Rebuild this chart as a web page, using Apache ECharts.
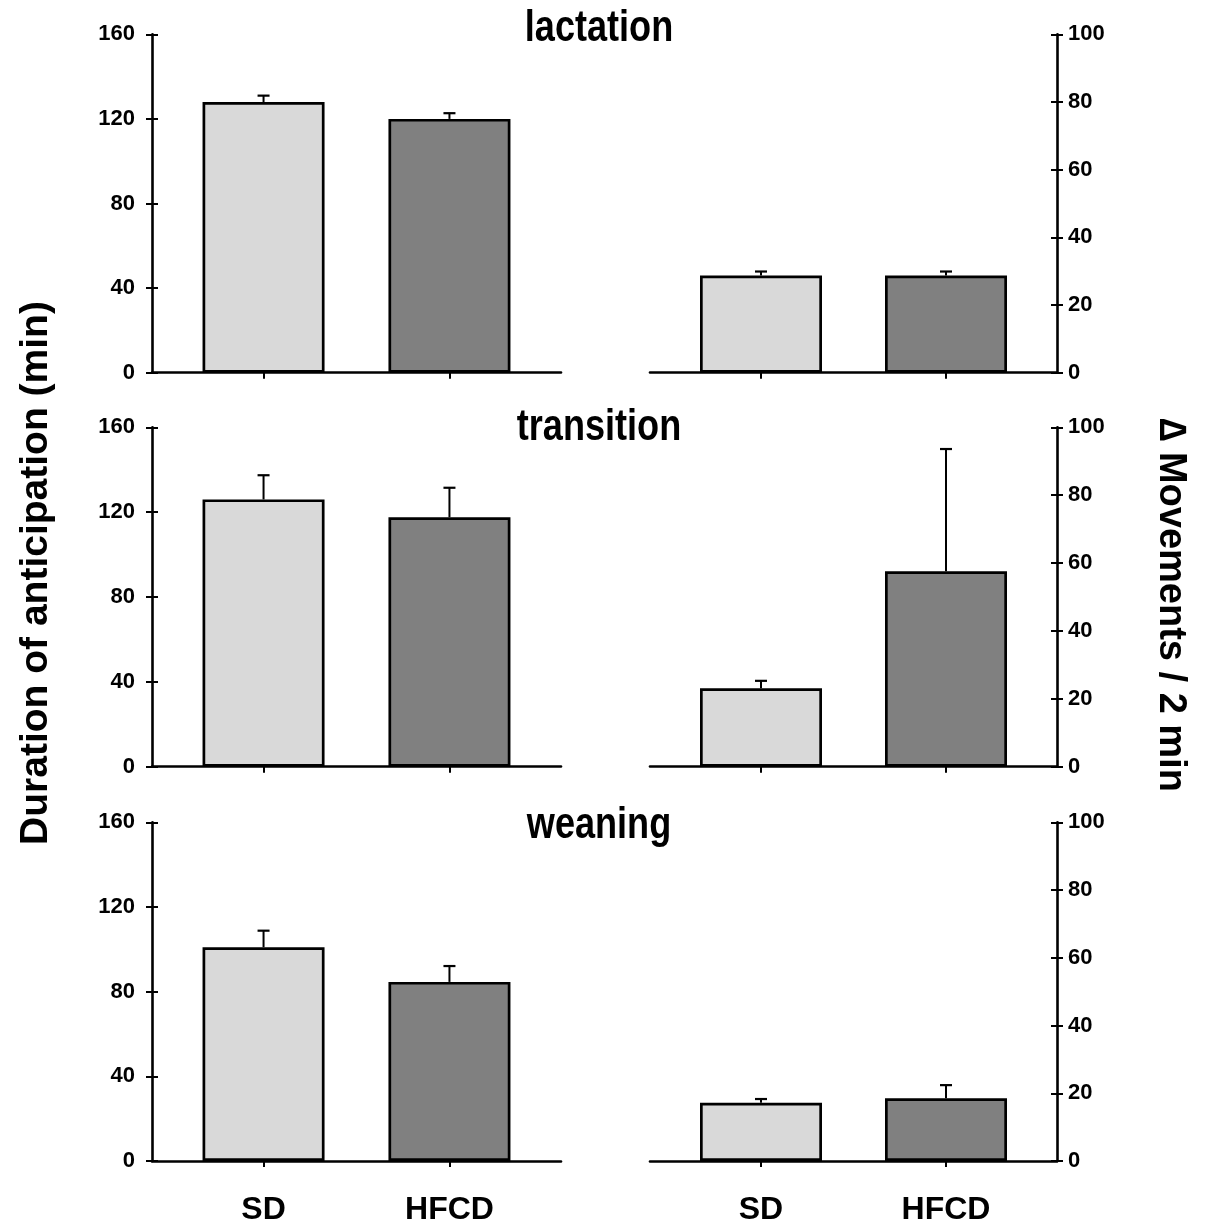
<!DOCTYPE html>
<html>
<head>
<meta charset="utf-8">
<script src="https://cdn.jsdelivr.net/npm/echarts@6/dist/echarts.min.js"></script>
<style>html,body{margin:0;padding:0;background:#fff;}#main{width:1206px;height:1226px;}</style>
</head>
<body>
<div id="main"></div>
<script>
// ---- data ----
const categories = ['SD', 'HFCD'];
const stages = ['lactation', 'transition', 'weaning'];
const durationSD = [128, 126, 101];
const durationHFCD = [120, 117.6, 84.6];
const durationErrSD = [3, 11.4, 7.8];
const durationErrHFCD = [2.7, 13.9, 7.5];
const movementsSD = [28.7, 23.1, 17.2];
const movementsHFCD = [28.7, 57.6, 18.5];
const movementsErrSD = [1.2, 2.2, 1.1];
const movementsErrHFCD = [1.2, 36, 3.9];
const durationTicks = [0, 40, 80, 120, 160];
const movementTicks = [0, 20, 40, 60, 80, 100];

const FONT = '"Liberation Sans","Arial",sans-serif';
const colors = ['#d9d9d9', '#808080'];

const rowTop = [34.3, 427.3, 822.3];
const rowBottom = [372.7, 766.7, 1161];
const titleY = [29, 428, 826];

const grids = [], xAxes = [], yAxes = [], series = [], graphics = [];

function errRender(params, api) {
  const x = api.value(0), m = api.value(1), e = api.value(2);
  const p0 = api.coord([x, m]);
  const p1 = api.coord([x, m + e]);
  return {
    type: 'group',
    children: [
      { type: 'line', shape: { x1: p0[0], y1: p0[1], x2: p1[0], y2: p1[1] }, style: { stroke: '#000', lineWidth: 2 } },
      { type: 'line', shape: { x1: p1[0] - 6, y1: p1[1], x2: p1[0] + 6, y2: p1[1] }, style: { stroke: '#000', lineWidth: 2.2 } }
    ]
  };
}

for (let r = 0; r < 3; r++) {
  const h = rowBottom[r] - rowTop[r];
  const isBottom = r === 2;
  for (let side = 0; side < 2; side++) {
    const left = side === 0 ? 152 : 650;
    const width = side === 0 ? 409 : 407;
    const ticks = side === 0 ? durationTicks : movementTicks;
    const ymax = ticks[ticks.length - 1];
    const interval = ticks[1] - ticks[0];
    const pos = side === 0 ? 'left' : 'right';

    // main grid with bars
    const gi = grids.length;
    grids.push({ left: left, top: rowTop[r], width: width, height: h, containLabel: false });
    xAxes.push({
      type: 'value', gridIndex: gi, min: -0.6, max: 1.6,
      axisLine: { show: true, onZero: false, lineStyle: { color: '#000', width: 2.6 } },
      axisTick: { show: true, customValues: [0, 1], length: 6, lineStyle: { color: '#000', width: 2 } },
      axisLabel: {
        show: isBottom, customValues: [0, 1], margin: 33,
        formatter: v => categories[Math.round(v)],
        color: '#000', fontFamily: FONT, fontWeight: 'bold', fontSize: 32
      },
      splitLine: { show: false }
    });
    yAxes.push({
      type: 'value', gridIndex: gi, position: pos, min: 0, max: ymax, interval: interval,
      axisLine: { show: true, onZero: false, lineStyle: { color: '#000', width: 2.6 } },
      axisTick: { show: true, inside: false, length: 6, lineStyle: { color: '#000', width: 2 } },
      axisLabel: { show: true, margin: side === 0 ? 17 : 11, color: '#000', fontFamily: FONT, fontWeight: 'bold', fontSize: 22 },
      splitLine: { show: false }
    });
    const means = side === 0 ? [durationSD[r], durationHFCD[r]] : [movementsSD[r], movementsHFCD[r]];
    const errs = side === 0 ? [durationErrSD[r], durationErrHFCD[r]] : [movementsErrSD[r], movementsErrHFCD[r]];
    series.push({
      type: 'bar', xAxisIndex: gi, yAxisIndex: gi, barWidth: 122,
      data: means.map((v, i) => ({ value: [i, v], itemStyle: { color: colors[i], borderColor: '#000', borderWidth: 2.7 } })),
      silent: true, animation: false, z: 2
    });
    series.push({
      type: 'custom', xAxisIndex: gi, yAxisIndex: gi, renderItem: errRender,
      encode: { x: 0, y: 1 },
      data: means.map((v, i) => [i, v, errs[i]]),
      silent: true, animation: false, z: 3
    });
  }
  graphics.push({
    type: 'text', x: 599, y: titleY[r], scaleX: 0.82, z: 10,
    style: { text: stages[r], fontFamily: FONT, fontWeight: 'bold', fontSize: 44, fill: '#000', align: 'center', verticalAlign: 'middle' }
  });
}

// overlay grids that only carry the inner half of each y tick (ticks cross the axis)
const nMain = grids.length;
for (let k = 0; k < nMain; k++) {
  const g = grids[k];
  const side = k % 2;
  const ticks = side === 0 ? durationTicks : movementTicks;
  const gi = grids.length;
  grids.push({ left: g.left, top: g.top, width: g.width, height: g.height, containLabel: false });
  xAxes.push({ type: 'value', gridIndex: gi, min: 0, max: 1, show: false });
  yAxes.push({
    type: 'value', gridIndex: gi, position: side === 0 ? 'left' : 'right',
    min: 0, max: ticks[ticks.length - 1], interval: ticks[1] - ticks[0],
    axisLine: { show: false, onZero: false },
    axisTick: { show: true, inside: true, length: 6, lineStyle: { color: '#000', width: 2 } },
    axisLabel: { show: false },
    splitLine: { show: false }
  });
}

graphics.push({
  type: 'text', x: 36, y: 573, rotation: Math.PI / 2,
  style: { text: 'Duration of anticipation (min)', fontFamily: FONT, fontWeight: 'bold', fontSize: 39, fill: '#000', align: 'center', verticalAlign: 'middle' }
});
graphics.push({
  type: 'text', x: 1170, y: 605, rotation: -Math.PI / 2,
  style: { text: '\u2206 Movements / 2 min', fontFamily: FONT, fontWeight: 'bold', fontSize: 38, fill: '#000', align: 'center', verticalAlign: 'middle' }
});

const chart = echarts.init(document.getElementById('main'), null, { renderer: 'canvas' });
chart.setOption({
  backgroundColor: '#fff',
  animation: false,
  grid: grids,
  xAxis: xAxes,
  yAxis: yAxes,
  series: series,
  graphic: graphics
});
</script>
</body>
</html>
